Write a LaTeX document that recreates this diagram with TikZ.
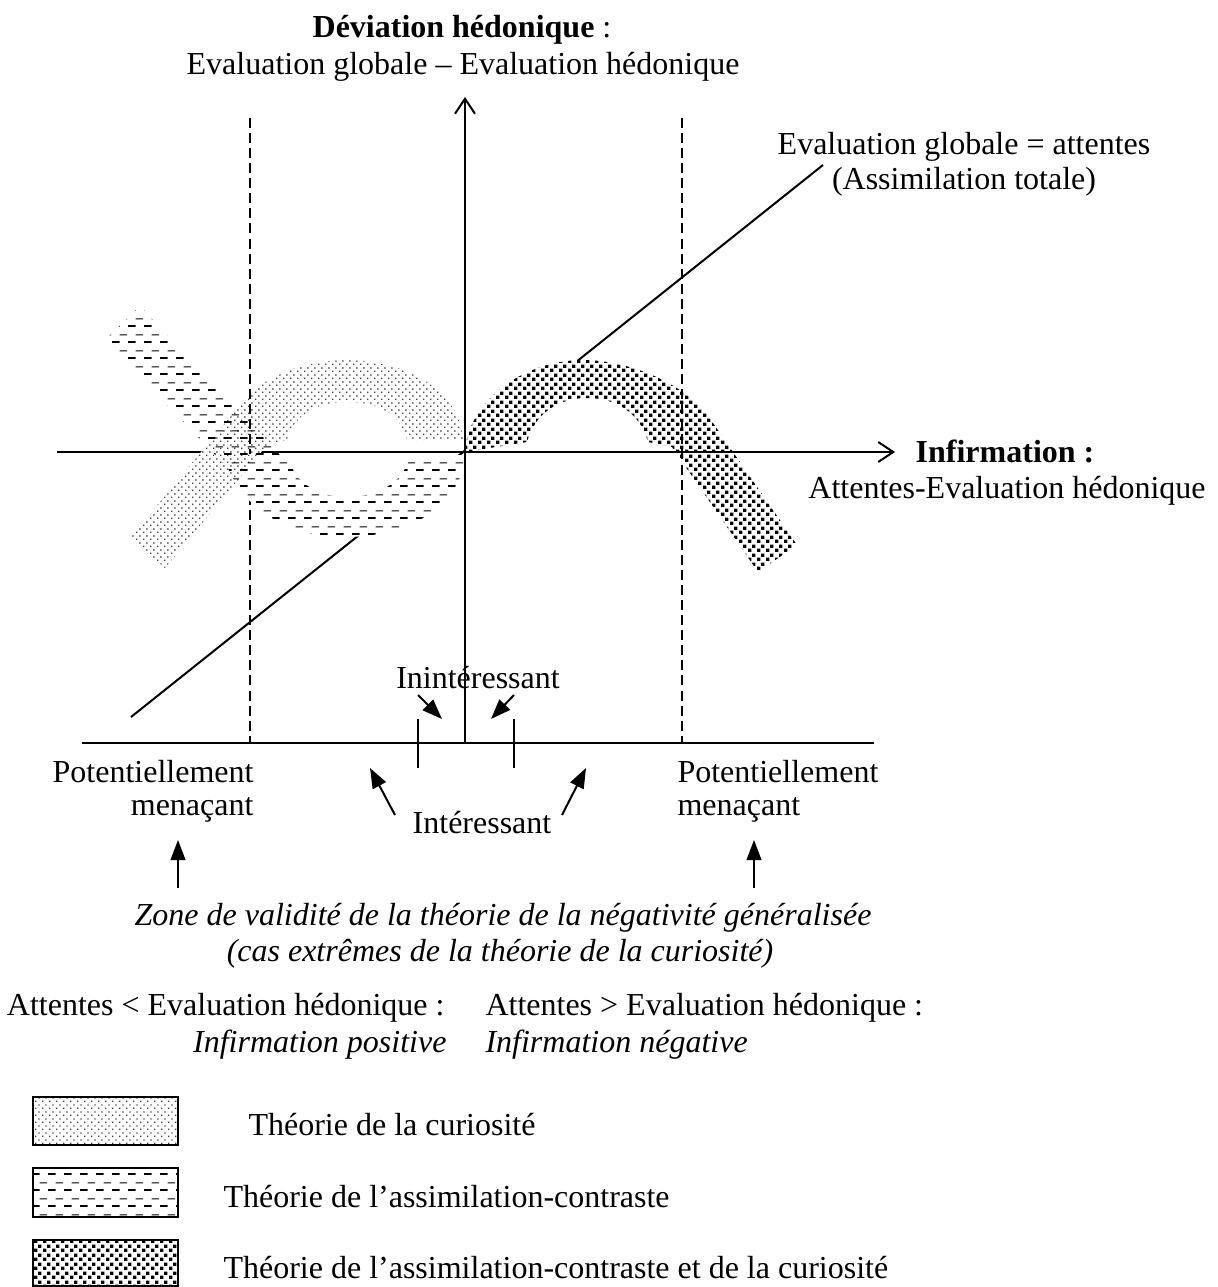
\documentclass[tikz,border=0pt]{standalone}
\usepackage{fontspec}
\setmainfont{Liberation Serif}
\usetikzlibrary{arrows.meta,patterns}

\pgfdeclarepatternformonly{lightdots}{\pgfpointorigin}{\pgfpoint{2.7pt}{2.7pt}}{\pgfpoint{2.7pt}{2.7pt}}{%
  \pgfpathrectangle{\pgfpoint{0pt}{0pt}}{\pgfpoint{0.55pt}{0.55pt}}%
  \pgfpathrectangle{\pgfpoint{1.35pt}{1.35pt}}{\pgfpoint{0.55pt}{0.55pt}}%
  \pgfusepath{fill}}
\pgfdeclarepatternformonly{darkdots}{\pgfpointorigin}{\pgfpoint{3.2pt}{3.2pt}}{\pgfpoint{3.2pt}{3.2pt}}{%
  \pgfpathrectangle{\pgfpoint{0pt}{0pt}}{\pgfpoint{1.3pt}{1.3pt}}%
  \pgfpathrectangle{\pgfpoint{1.6pt}{1.6pt}}{\pgfpoint{1.3pt}{1.3pt}}%
  \pgfusepath{fill}}
\pgfdeclarepatternformonly{dashrows}{\pgfpointorigin}{\pgfpoint{6pt}{6pt}}{\pgfpoint{6pt}{6pt}}{%
  \pgfpathrectangle{\pgfpoint{0pt}{0pt}}{\pgfpoint{3pt}{0.7pt}}%
  \pgfpathrectangle{\pgfpoint{3pt}{3pt}}{\pgfpoint{3pt}{0.4pt}}%
  \pgfusepath{fill}}

\newcommand{\curiopath}{(463,440) .. controls (460,390) and (405,360) .. (347,360) .. controls (300,360) and (258,380) .. (240,405) -- (130,538) -- (165,568) -- (267,445) -- (287,440) .. controls (295,412) and (320,402) .. (347,402) .. controls (375,402) and (400,412) .. (407,440) -- cycle}
\newcommand{\bothpath}{(465,452) .. controls (468,400) and (525,360) .. (583,360) .. controls (630,360) and (690,385) .. (713,423) -- (797,545) -- (758,572) -- (672,447) -- (648,442) .. controls (640,412) and (615,398) .. (587,398) .. controls (560,398) and (535,412) .. (527,442) -- cycle}
\newcommand{\assimpath}{(465,455) .. controls (462,505) and (410,537) .. (345,537) .. controls (290,537) and (245,510) .. (228,468) -- (105,340) -- (140,306) -- (280,455) -- (288,457) .. controls (295,485) and (320,497) .. (347,497) .. controls (375,497) and (403,485) .. (410,456) -- cycle}

\begin{document}
\begin{tikzpicture}[x=0.375pt,y=-0.375pt,
  every node/.style={font=\fontsize{12pt}{14pt}\selectfont, inner sep=0pt},
  ln/.style={line width=0.75pt},
  dashln/.style={line width=0.75pt, dash pattern=on 3.75pt off 1.9pt},
  openarrow/.style={line width=0.75pt, -{Straight Barb[length=5.6pt,width=7.5pt,line width=0.75pt]}},
  fillarrow/.style={line width=0.75pt, -{Triangle[length=7.5pt,width=5.5pt]}},
  legbox/.style={line width=0.9pt, draw=black, preaction={fill=white}}]
\useasboundingbox (0,0) rectangle (1218,1287);

% coordinates
\coordinate (dl0) at (131,717);
\coordinate (dl1) at (823,165);
\coordinate (hx0) at (57,452);
\coordinate (hx1) at (895,452);
\coordinate (vx0) at (465,743);
\coordinate (vx1) at (465,97);
\coordinate (lw0) at (82,743);
\coordinate (lw1) at (874,743);
\coordinate (dv1a) at (250,118);
\coordinate (dv1b) at (250,743);
\coordinate (dv2a) at (682,118);
\coordinate (dv2b) at (682,743);

% diagonal
\draw[ln] (dl0) -- (dl1);
% dark band white
\fill[white] \bothpath;
% horizontal axis
\draw[openarrow] (hx0) -- (hx1);
% light band white
\fill[white] \curiopath;
% dashed verticals
\draw[dashln] (dv1a) -- (dv1b);
\draw[dashln] (dv2a) -- (dv2b);
% dashed band white, below axis only
\begin{scope}
  \clip (0,454) rectangle (1218,1287);
  \fill[white] \assimpath;
\end{scope}
% patterns
\fill[pattern=lightdots, pattern color=black!75] \curiopath;
\fill[pattern=darkdots, pattern color=black] \bothpath;
\fill[pattern=dashrows, pattern color=black] \assimpath;

% vertical axis and lower line
\draw[ln] (lw0) -- (lw1);
\draw[openarrow] (vx0) -- (vx1);

% ticks
\coordinate (t1a) at (418,719); \coordinate (t1b) at (418,768);
\coordinate (t2a) at (514,719); \coordinate (t2b) at (514,768);
\draw[ln] (t1a) -- (t1b);
\draw[ln] (t2a) -- (t2b);

% small arrows
\coordinate (a1s) at (418,695); \coordinate (a1e) at (442,719);
\coordinate (a2s) at (514,695); \coordinate (a2e) at (491,719);
\coordinate (a3s) at (395,815); \coordinate (a3e) at (370,768);
\coordinate (a4s) at (562,815); \coordinate (a4e) at (586,768);
\coordinate (a5s) at (178,888); \coordinate (a5e) at (178,840);
\coordinate (a6s) at (754,888); \coordinate (a6e) at (754,840);
\draw[fillarrow] (a1s) -- (a1e);
\draw[fillarrow] (a2s) -- (a2e);
\draw[fillarrow] (a3s) -- (a3e);
\draw[fillarrow] (a4s) -- (a4e);
\draw[fillarrow] (a5s) -- (a5e);
\draw[fillarrow] (a6s) -- (a6e);

% texts
\node[anchor=base] (dev) at (462,38) {\textbf{Déviation hédonique} :};
\node[anchor=base] (evg) at (463,75) {Evaluation globale – Evaluation hédonique};
\node[anchor=base] (egal) at (964,155) {Evaluation globale = attentes};
\node[anchor=base] (assim) at (964,190) {(Assimilation totale)};
\node[anchor=base] (inf) at (1005,462) {\textbf{Infirmation :}};
\node[anchor=base] (atev) at (1007,498) {Attentes-Evaluation hédonique};
\node[anchor=base] (inint) at (478,688) {Inintéressant};
\node[anchor=base east] (potL) at (254,782) {Potentiellement};
\node[anchor=base east] (menL) at (254,815) {menaçant};
\node[anchor=base west] (potR) at (677,782) {Potentiellement};
\node[anchor=base west] (menR) at (677,815) {menaçant};
\node[anchor=base] (inter) at (482,833) {Intéressant};
\node[anchor=base] (zone) at (503,925) {\itshape Zone de validité de la théorie de la négativité généralisée};
\node[anchor=base] (cas) at (500,961) {\itshape (cas extrêmes de la théorie de la curiosité)};
\node[anchor=base east] (attinf) at (445,1015) {Attentes < Evaluation hédonique :};
\node[anchor=base east] (infpos) at (447,1052) {\itshape Infirmation positive};
\node[anchor=base west] (attsup) at (485,1015) {Attentes > Evaluation hédonique :};
\node[anchor=base west] (infneg) at (485,1052) {\itshape Infirmation négative};

% legend
\coordinate (b1a) at (33,1097); \coordinate (b1b) at (178,1145);
\coordinate (b2a) at (33,1168); \coordinate (b2b) at (178,1217);
\coordinate (b3a) at (33,1240); \coordinate (b3b) at (178,1286);
\path[legbox, pattern=lightdots, pattern color=black!75] (b1a) rectangle (b1b);
\path[legbox, pattern=dashrows, pattern color=black] (b2a) rectangle (b2b);
\path[legbox, pattern=darkdots, pattern color=black] (b3a) rectangle (b3b);
\node[anchor=base west] (leg1) at (248,1135) {Théorie de la curiosité};
\node[anchor=base west] (leg2) at (223,1207) {Théorie de l’assimilation-contraste};
\node[anchor=base west] (leg3) at (223,1278) {Théorie de l’assimilation-contraste et de la curiosité};
\end{tikzpicture}
\end{document}
